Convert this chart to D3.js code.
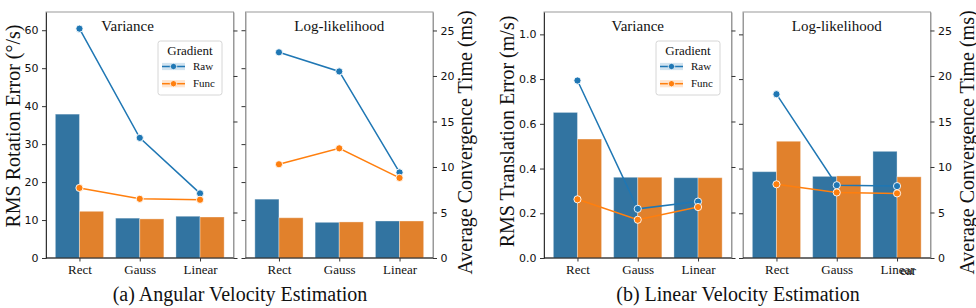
<!DOCTYPE html>
<html>
<head>
<meta charset="utf-8">
<script src="https://cdn.jsdelivr.net/npm/d3@7"></script>
<style>
  body { margin: 0; background: #fff; }
  svg text { fill: #111; }
</style>
</head>
<body>
<svg width="976" height="308"></svg>
<script>
// categories and series
var categories = ["Rect", "Gauss", "Linear"];
var series = ["Raw", "Func"];

// (a) angular velocity: bars = RMS rotation error, lines = convergence time
var angVarErrRaw = [37.9, 10.5, 11.0];
var angVarErrFunc = [12.3, 10.3, 10.8];
var angVarTimeRaw = [25.2, 13.2, 7.1];
var angVarTimeFunc = [7.7, 6.5, 6.4];
var angLogErrRaw = [15.5, 9.4, 9.75];
var angLogErrFunc = [10.6, 9.5, 9.75];
var angLogTimeRaw = [22.6, 20.5, 9.4];
var angLogTimeFunc = [10.3, 12.05, 8.8];

// (b) linear velocity: bars = RMS translation error, lines = convergence time
var linVarErrRaw = [0.651, 0.361, 0.359];
var linVarErrFunc = [0.532, 0.361, 0.359];
var linVarTimeRaw = [19.5, 5.4, 6.2];
var linVarTimeFunc = [6.45, 4.2, 5.6];
var linLogErrRaw = [0.386, 0.365, 0.477];
var linLogErrFunc = [0.522, 0.367, 0.363];
var linLogTimeRaw = [18.0, 8.0, 7.9];
var linLogTimeFunc = [8.1, 7.2, 7.1];

// tick labels
var angErrTicks = [0, 10, 20, 30, 40, 50, 60];
var linErrTicks = [0, 0.2, 0.4, 0.6, 0.8, 1.0];
var timeTicks = [0, 5, 10, 15, 20, 25];

var barColors = ["#3274a1", "#e1812c"];
var lineColors = ["#1f77b4", "#ff7f0e"];
var serif = "'Liberation Serif', 'Times New Roman', serif";
var sans = "'DejaVu Sans', sans-serif";

var yTop = 12, yBot = 258, pw = 187.5;

var panels = [
  { x0: 46, title: "Variance", tx: 0.435, err: [angVarErrRaw, angVarErrFunc], time: [angVarTimeRaw, angVarTimeFunc],
    errMax: 64.8, errTicks: angErrTicks, errFmt: d3.format("d"), leftLab: true, rightLab: false, legend: true },
  { x0: 245.5, title: "Log-likelihood", tx: 0.5, err: [angLogErrRaw, angLogErrFunc], time: [angLogTimeRaw, angLogTimeFunc],
    errMax: 64.8, errTicks: angErrTicks, errFmt: d3.format("d"), leftLab: false, rightLab: true, legend: false },
  { x0: 544, title: "Variance", tx: 0.5, err: [linVarErrRaw, linVarErrFunc], time: [linVarTimeRaw, linVarTimeFunc],
    errMax: 1.1, errTicks: linErrTicks, errFmt: d3.format(".1f"), leftLab: true, rightLab: false, legend: true },
  { x0: 743, title: "Log-likelihood", tx: 0.5, err: [linLogErrRaw, linLogErrFunc], time: [linLogTimeRaw, linLogTimeFunc],
    errMax: 1.1, errTicks: linErrTicks, errFmt: d3.format(".1f"), leftLab: false, rightLab: true, legend: false }
];

var svg = d3.select("svg");
var lastLinearLabel = null;

panels.forEach(function (p, pi) {
  var x = d3.scaleLinear().domain([-0.555, 2.555]).range([p.x0, p.x0 + pw]);
  var yErr = d3.scaleLinear().domain([0, p.errMax]).range([yBot, yTop]);
  var yTime = d3.scaleLinear().domain([0, 27.03]).range([yBot, yTop]);
  var bw = x(0.4) - x(0);

  var g = svg.append("g");

  // frame
  g.append("rect")
    .attr("x", p.x0).attr("y", yTop)
    .attr("width", pw).attr("height", yBot - yTop)
    .attr("fill", "none").attr("stroke", "#999").attr("stroke-width", 1);

  // bars
  series.forEach(function (s, si) {
    g.selectAll("rect.bar" + si)
      .data(p.err[si])
      .enter().append("rect")
      .attr("class", "bar" + si)
      .attr("x", function (d, i) { return si === 0 ? x(i) - bw : x(i); })
      .attr("y", function (d) { return yErr(d); })
      .attr("width", bw)
      .attr("height", function (d) { return yBot - yErr(d); })
      .attr("fill", barColors[si])
      .attr("stroke", "#fff").attr("stroke-opacity", 0.35).attr("stroke-width", 1);
  });

  // lines
  series.forEach(function (s, si) {
    var line = d3.line()
      .x(function (d, i) { return x(i); })
      .y(function (d) { return yTime(d); });
    g.append("path")
      .datum(p.time[si])
      .attr("d", line)
      .attr("fill", "none")
      .attr("stroke", lineColors[si])
      .attr("stroke-width", 1.5);
  });
  series.forEach(function (s, si) {
    g.selectAll("circle.m" + si)
      .data(p.time[si])
      .enter().append("circle")
      .attr("class", "m" + si)
      .attr("cx", function (d, i) { return x(i); })
      .attr("cy", function (d) { return yTime(d); })
      .attr("r", 3.6)
      .attr("fill", lineColors[si])
      .attr("stroke", "#fff").attr("stroke-width", 0.9);
  });

  // left axis
  var la = g.append("g")
    .attr("transform", "translate(" + p.x0 + ",0)")
    .call(d3.axisLeft(yErr).tickValues(p.errTicks).tickSize(4).tickPadding(3.5).tickSizeOuter(0)
      .tickFormat(p.leftLab ? p.errFmt : ""));
  la.select(".domain").attr("stroke", p.leftLab ? "#333" : "#999");
  la.selectAll(".tick line").attr("stroke", "#333");
  la.selectAll("text").style("font-family", sans).style("font-size", "11px").attr("fill", "#111");

  // right axis
  var ra = g.append("g")
    .attr("transform", "translate(" + (p.x0 + pw) + ",0)")
    .call(d3.axisRight(yTime).tickValues(timeTicks).tickSize(4).tickPadding(3.5).tickSizeOuter(0)
      .tickFormat(p.rightLab ? d3.format("d") : ""));
  ra.select(".domain").attr("stroke", "#999");
  ra.selectAll(".tick line").attr("stroke", "#333");
  ra.selectAll("text").style("font-family", sans).style("font-size", "11px").attr("fill", "#111");

  // bottom axis
  var xb = d3.scalePoint().domain(categories).range([x(0), x(2)]);
  var ba = g.append("g")
    .attr("transform", "translate(0," + yBot + ")")
    .call(d3.axisBottom(xb).tickSize(3.5).tickPadding(3.3).tickSizeOuter(0));
  ba.select(".domain").attr("d", "M" + p.x0 + ",0H" + (p.x0 + pw)).attr("stroke", "#111").attr("stroke-width", 1.2);
  ba.selectAll(".tick line").attr("stroke", "#333");
  ba.selectAll("text").style("font-family", serif).style("font-size", "13px").attr("fill", "#111");
  if (pi === panels.length - 1) {
    lastLinearLabel = ba.selectAll("text").filter(function (d) { return d === "Linear"; }).node();
  }

  // title
  g.append("text")
    .attr("x", p.x0 + pw * p.tx).attr("y", 31)
    .attr("text-anchor", "middle")
    .style("font-family", serif).style("font-size", "15px")
    .text(p.title);

  // legend
  if (p.legend) {
    var lx = p.x0 + pw - 75.5, ly = 41;
    var lg = g.append("g").attr("transform", "translate(" + lx + "," + ly + ")");
    lg.append("rect")
      .attr("width", 64).attr("height", 54).attr("rx", 2.5)
      .attr("fill", "#fff").attr("fill-opacity", 0.8)
      .attr("stroke", "#d6d6d6").attr("stroke-width", 1);
    lg.append("text")
      .attr("x", 32).attr("y", 14)
      .attr("text-anchor", "middle")
      .style("font-family", serif).style("font-size", "13px")
      .text("Gradient");
    series.forEach(function (s, si) {
      var cy = 25.5 + si * 17.2;
      lg.append("rect")
        .attr("x", 4).attr("y", cy - 3.6).attr("width", 23).attr("height", 7.2)
        .attr("fill", lineColors[si]).attr("fill-opacity", 0.2);
      lg.append("line")
        .attr("x1", 4).attr("x2", 27).attr("y1", cy).attr("y2", cy)
        .attr("stroke", lineColors[si]).attr("stroke-width", 1.5);
      lg.append("circle")
        .attr("cx", 15.5).attr("cy", cy).attr("r", 3.2)
        .attr("fill", lineColors[si]).attr("stroke", "#fff").attr("stroke-width", 0.8);
      lg.append("text")
        .attr("x", 35).attr("y", cy + 3.6)
        .style("font-family", serif).style("font-size", "11px")
        .text(s);
    });
  }
});

// stray overlapping fragment seen on the last "Linear" tick label
if (lastLinearLabel) {
  var bb = lastLinearLabel.getBBox();
  var m = lastLinearLabel.getCTM();
  var tb = lastLinearLabel.getBoundingClientRect();
  svg.append("text")
    .attr("x", tb.right + 1).attr("y", m.f + 3.5 + 3.3 + 0.71 * 13 + 1.2)
    .attr("text-anchor", "end")
    .style("font-family", serif).style("font-size", "13px")
    .attr("fill", "#444")
    .text("ear");
}

// axis titles
function vlabel(txt, cx, cy) {
  svg.append("text")
    .attr("transform", "translate(" + cx + "," + cy + ") rotate(-90)")
    .attr("text-anchor", "middle").attr("dy", "0.35em")
    .style("font-family", serif).style("font-size", "20px")
    .text(txt);
}
vlabel("RMS Rotation Error (\u00b0/s)", 12.5, 126);
vlabel("Average Convergence Time (ms)", 465, 142.5);
vlabel("RMS Translation Error (m/s)", 506.5, 131.5);
vlabel("Average Convergence Time (ms)", 966.5, 142.5);

// captions
svg.append("text")
  .attr("x", 240).attr("y", 301)
  .attr("text-anchor", "middle")
  .style("font-family", serif).style("font-size", "20px")
  .text("(a) Angular Velocity Estimation");
svg.append("text")
  .attr("x", 738).attr("y", 301)
  .attr("text-anchor", "middle")
  .style("font-family", serif).style("font-size", "20px")
  .text("(b) Linear Velocity Estimation");
</script>
</body>
</html>
